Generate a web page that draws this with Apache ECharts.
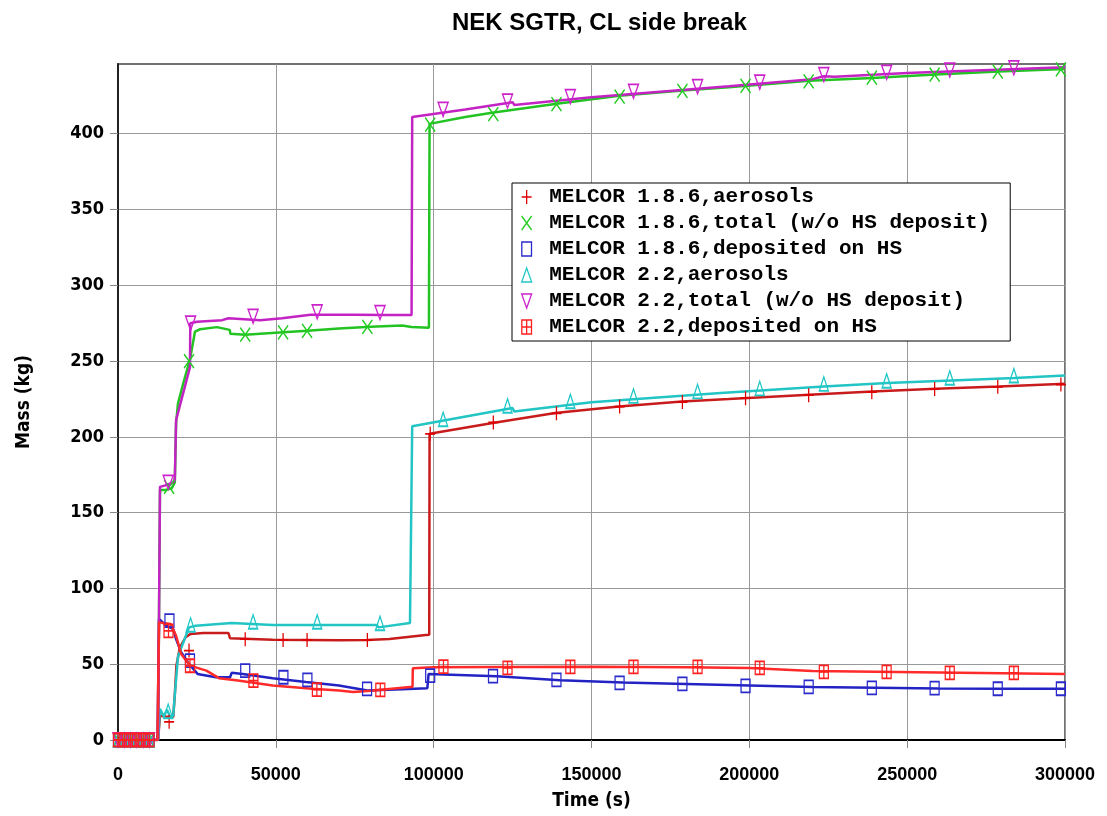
<!DOCTYPE html>
<html>
<head>
<meta charset="utf-8">
<script src="https://cdn.jsdelivr.net/npm/echarts@6/dist/echarts.min.js"></script>
<style>
html,body{margin:0;padding:0;background:#fff;}
#chart{width:1107px;height:816px;}
</style>
</head>
<body>
<div id="chart"></div>
<script>
// ---------- DATA (time in s, mass in kg) ----------
const seriesNames = [
  'MELCOR 1.8.6,aerosols',
  'MELCOR 1.8.6,total (w/o HS deposit)',
  'MELCOR 1.8.6,deposited on HS',
  'MELCOR 2.2,aerosols',
  'MELCOR 2.2,total (w/o HS deposit)',
  'MELCOR 2.2,deposited on HS'
];

const aer186Line = [[0,0],[12700,0],[13300,16],[15000,15.5],[17500,15.3],[18000,30],[18500,49],[19600,61],[21400,67.8],[23000,70],[27000,70.6],[35000,70.6],[35500,67.1],[49000,66.2],[70000,65.8],[79000,66],[86000,66.6],[97500,69.3],[98600,69.5],[98700,202],[118700,209.2],[138500,215.8],[158700,220],[178700,223.4],[193500,225],[219000,227.8],[239000,230],[259000,231.8],[279000,233.3],[300000,235]];
const aer186Marks = [[0,0],[2000,0],[4000,0],[6000,0],[8000,0],[10000,0],[16200,12],[22500,59],[40300,66.5],[52300,66],[59900,66],[79000,66],[98900,202],[118900,209.5],[138900,215.5],[158900,220],[178800,223],[198800,225.5],[218800,227.5],[238800,229.5],[258700,231.5],[278700,233],[298700,234.5]];

const tot186Line = [[0,0],[12700,0],[13300,165],[15000,165],[17000,166],[18000,170],[18400,209],[19000,222],[20700,235.5],[22800,251],[24400,269.5],[26000,271],[31300,272.4],[35400,270.6],[35600,268],[40300,267.3],[52300,269],[60000,270],[70000,271.5],[80000,272.6],[90000,273.5],[93000,272.5],[98500,272],[98700,406.5],[110000,411],[119000,414],[139000,419.7],[158800,425],[179000,428.5],[193500,430.7],[219000,435],[239000,436.8],[259000,439],[279000,441],[300000,442.7]];
const tot186Marks = [[0,0],[2000,0],[4000,0],[6000,0],[8000,0],[10000,0],[16200,167],[22500,250],[40300,267.5],[52300,269],[59900,270],[79000,272.6],[98900,406],[118900,413],[138900,419.5],[158900,424.5],[178800,428.3],[198800,431.5],[218800,434.5],[238800,437],[258700,439],[278700,441],[298700,442.5]];

const dep186Line = [[0,0],[12500,0],[13000,79.8],[15000,76],[17500,73.2],[18400,66.6],[20000,57.9],[22500,50.2],[25200,43.6],[31000,41.4],[35500,41.4],[36000,44.3],[39500,43.6],[49000,40.8],[59500,38.2],[70000,35.9],[79000,32.6],[90000,33.5],[98000,34.2],[98400,43.6],[120000,42],[140000,39.5],[160000,38],[180000,37],[200000,36],[220000,35],[240000,34.5],[260000,34],[280000,33.8],[300000,33.8]];
const dep186Marks = [[0,0],[2000,0],[4000,0],[6000,0],[8000,0],[10000,0],[16300,78.7],[22800,52.4],[40300,45.8],[52400,41.4],[60000,39.7],[78900,33.7],[98900,42.5],[118800,42.1],[138900,39.7],[158900,37.7],[178800,37],[198800,35.7],[218800,35],[238800,34.4],[258700,34.2],[278700,33.8],[298700,33.8]];

const aer22Line = [[0,0],[12700,0],[13300,20.6],[14500,15.5],[15500,20],[16500,15.5],[17500,16],[18000,30],[19000,55],[22500,74.3],[24600,75.4],[36000,77.2],[49000,75.9],[70000,75.9],[82000,75.9],[82500,74.3],[92500,77.2],[93100,77.2],[93200,207],[125000,219],[125500,216.8],[150000,222.8],[190900,229],[223600,233.3],[243700,235.5],[264000,237.2],[284000,238.8],[300000,240.5]];
const aer22Marks = [[0,0],[2000,0],[4000,0],[6000,0],[8000,0],[10000,0],[15900,19],[23000,76],[42800,78],[63100,78],[83000,77],[103000,211.6],[123400,220.5],[143300,223.5],[163300,227],[183600,230],[203300,232],[223600,235],[243500,237],[263500,239],[283800,240.5]];

const tot22Line = [[0,0],[12700,0],[13300,167],[15000,168],[17500,170],[18000,172],[18400,211],[22800,246],[22900,275],[25000,276],[33000,277],[35000,278.3],[45000,277],[52000,278.3],[61000,280.5],[75000,280.5],[85000,280.4],[93000,280.4],[93200,411],[110000,416],[125000,420.8],[125500,419],[150000,424],[193500,431.3],[220000,436],[223600,437.9],[227000,437.6],[250000,440],[300000,443.8]];
const tot22Marks = [[0,0],[2000,0],[4000,0],[6000,0],[8000,0],[10000,0],[15900,170],[23000,275],[42800,279.5],[63100,282.5],[83000,282],[103000,416],[123400,421.5],[143300,424.5],[163300,428],[183600,431],[203300,434],[223600,439],[243500,440.5],[263500,442],[283800,443.5]];

const dep22Line = [[0,0],[12500,0],[13000,77.6],[16700,76.5],[18400,68.8],[20000,56.8],[22800,49.1],[28000,45.8],[32000,40.8],[38000,39.2],[49000,35.9],[61500,33.8],[70000,32.6],[74500,31.6],[80000,32.5],[92500,34.9],[93300,34.9],[93400,47.4],[100000,48],[120000,48.2],[150000,48.3],[180000,48],[200000,47.5],[220000,45.5],[240000,45],[260000,44.5],[300000,43.6]];
const dep22Marks = [[0,0],[2000,0],[4000,0],[6000,0],[8000,0],[10000,0],[16000,72],[22800,49],[42900,39.2],[63000,33.2],[83100,33.1],[103100,48.4],[123400,47.6],[143300,48.2],[163300,48.2],[183600,48.2],[203300,47.6],[223600,45],[243500,45],[263500,44.3],[283800,44.3]];

const xTicks = [0,50000,100000,150000,200000,250000,300000];
const yTicks = [0,50,100,150,200,250,300,350,400];

// ---------- STYLE ----------
const lineColors = ['#c81c1c','#22c322','#2323c3','#22c4c4','#c423c4','#ff2a2a'];
const markColors = ['#dd0000','#22cc22','#2a2acc','#22c8c8','#cc22cc','#ff2020'];
const symbols = [
  'path://M5,0L5,14M0,7L10,7',
  'path://M0,0L10,14M10,0L0,14',
  'path://M0,0L9,0L9,13L0,13Z',
  'path://M5,0L10,14L0,14Z',
  'path://M0,0L10,0L5,14Z',
  'path://M0,0L9,0L9,13L0,13Z M4.5,0L4.5,13 M0,6.5L9,6.5'
];
const symSizes = [[10,14],[10,14],[9,13],[9,14],[10,14],[9,13]];
const lines = [aer186Line, tot186Line, dep186Line, aer22Line, tot22Line, dep22Line];
const marks = [aer186Marks, tot186Marks, dep186Marks, aer22Marks, tot22Marks, dep22Marks];

const series = [];
for (let i = 0; i < 6; i++) {
  series.push({
    name: seriesNames[i], type: 'line', data: lines[i], showSymbol: false,
    lineStyle: {color: lineColors[i], width: 2.5}, itemStyle: {color: lineColors[i]},
    z: 2 + i, animation: false
  });
}
for (let i = 0; i < 6; i++) {
  series.push({
    name: seriesNames[i], type: 'scatter', data: marks[i], symbol: symbols[i], symbolSize: symSizes[i],
    itemStyle: {color: 'rgba(0,0,0,0)', borderColor: markColors[i], borderWidth: 1.5, opacity: 1},
    z: 10 + i, animation: false
  });
}

const numFont = "'Liberation Sans Narrow', 'DejaVu Sans Condensed', 'Liberation Sans', sans-serif";

const chart = echarts.init(document.getElementById('chart'));
chart.setOption({
  animation: false,
  backgroundColor: '#fff',
  title: {
    text: 'NEK SGTR, CL side break', left: 447, top: 6,
    textStyle: {fontFamily: "'Liberation Sans', sans-serif", fontWeight: 'bold', fontSize: 24, color: '#000'}
  },
  grid: {left: 118, right: 42, top: 64, bottom: 75, show: true, borderColor: '#444', borderWidth: 1.5, backgroundColor: 'transparent'},
  legend: {
    orient: 'vertical', left: 512, top: 183,
    padding: [3, 20, 3, 9], itemGap: 4, itemWidth: 23, itemHeight: 14,
    backgroundColor: '#fff', borderColor: '#000', borderWidth: 1, borderRadius: 0,
    textStyle: {fontFamily: "'Liberation Mono', monospace", fontWeight: 'bold', fontSize: 21, color: '#000', lineHeight: 22, padding: [0, 0, 0, 6]},
    data: seriesNames.map((n, i) => ({name: n, icon: symbols[i],
      itemStyle: {color: 'rgba(0,0,0,0)', borderColor: markColors[i], borderWidth: 1.3}}))
  },
  xAxis: {
    type: 'value', min: 0, max: 300000, interval: 50000,
    name: 'Time (s)', nameLocation: 'middle', nameGap: 52,
    nameTextStyle: {fontFamily: numFont, fontWeight: 'bold', fontSize: 19, color: '#000'},
    axisLine: {show: true, lineStyle: {color: '#000', width: 2}},
    axisTick: {show: true, inside: false, length: 8, lineStyle: {color: '#888'}},
    axisLabel: {margin: 26, fontFamily: "'Liberation Sans', sans-serif", fontWeight: 'bold', fontSize: 18, color: '#000',
      formatter: v => xTicks.includes(v) ? String(v) : ''},
    splitLine: {show: true, lineStyle: {color: '#999', width: 1}}
  },
  yAxis: {
    type: 'value', min: 0, max: 446, interval: 50,
    name: 'Mass (kg)', nameLocation: 'middle', nameGap: 84,
    nameTextStyle: {fontFamily: numFont, fontWeight: 'bold', fontSize: 19, color: '#000'},
    axisLine: {show: true, lineStyle: {color: '#222', width: 2}},
    axisTick: {show: true, inside: false, length: 8, lineStyle: {color: '#888'}, customValues: yTicks},
    axisLabel: {margin: 14, fontFamily: numFont, fontWeight: 'bold', fontSize: 18, color: '#000', customValues: yTicks,
      formatter: v => yTicks.includes(v) ? String(v) : ''},
    splitLine: {show: true, lineStyle: {color: '#999', width: 1}}
  },
  series: series
});
</script>
</body>
</html>
